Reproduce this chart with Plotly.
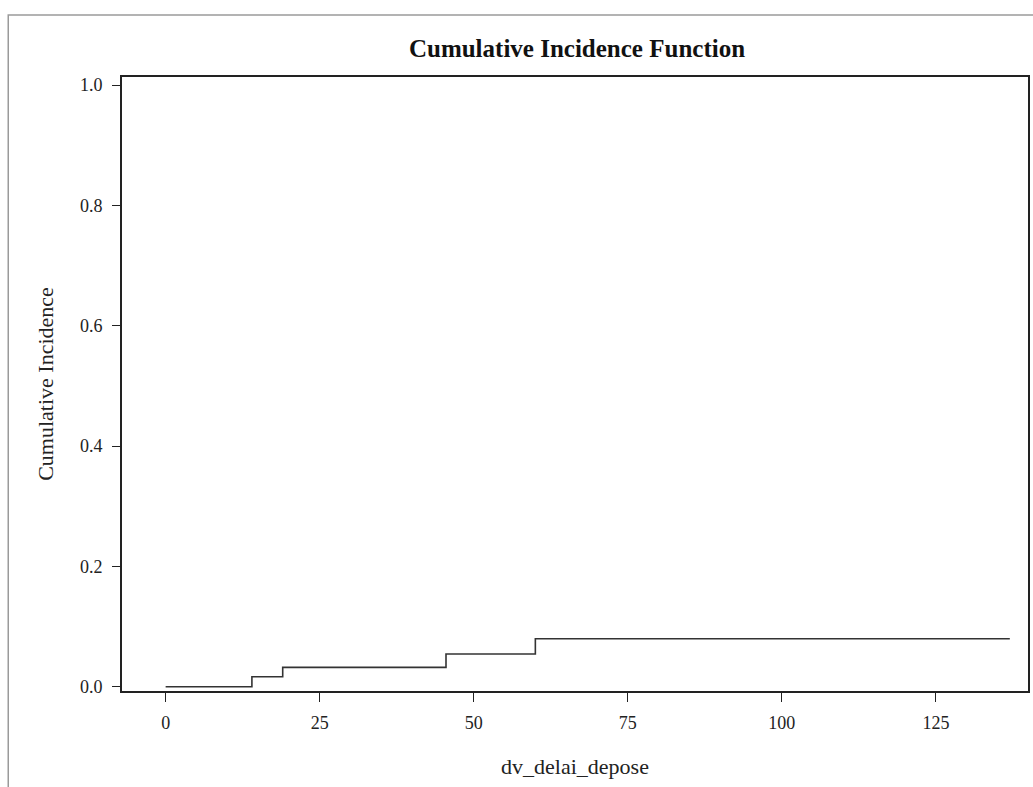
import plotly.graph_objects as go

# Data: step function of cumulative incidence
time_points = [0, 14, 19, 45.5, 60, 137]
cum_incidence = [0.0, 0.0167, 0.0322, 0.0543, 0.0798, 0.0798]

x_ticks = [0, 25, 50, 75, 100, 125]
y_ticks = [0.0, 0.2, 0.4, 0.6, 0.8, 1.0]
y_tick_labels = ["0.0", "0.2", "0.4", "0.6", "0.8", "1.0"]

FONT = "Liberation Serif, Times New Roman, serif"

fig = go.Figure()
fig.add_trace(go.Scatter(
    x=time_points, y=cum_incidence, mode="lines",
    line=dict(shape="hv", color="#333333", width=1.6),
    showlegend=False, hoverinfo="skip",
))

fig.update_layout(
    width=1033, height=787,
    margin=dict(l=122, r=3, t=77, b=96),
    paper_bgcolor="white", plot_bgcolor="white",
    font=dict(family=FONT, color="#222222", size=18),
    title=dict(
        text="<b>Cumulative Incidence Function</b>",
        x=577 / 1033, xanchor="center", xref="container",
        y=1 - 48 / 787, yanchor="middle", yref="container",
        font=dict(family=FONT, size=25, color="#111111"),
    ),
    xaxis=dict(
        range=[-7.08, 139.95],
        tickvals=x_ticks, ticks="outside", ticklen=9, tickwidth=1.4,
        tickcolor="#222222", ticklabelstandoff=6,
        showline=True, linecolor="#222222", linewidth=1.6, mirror=True,
        showgrid=False, zeroline=False,
        title=dict(text="dv_delai_depose", font=dict(size=22), standoff=26),
        tickfont=dict(size=18),
    ),
    yaxis=dict(
        range=[-0.0071, 1.0133],
        tickvals=y_ticks, ticktext=y_tick_labels, ticks="outside", ticklen=8,
        tickwidth=1.4, tickcolor="#222222", ticklabelstandoff=6,
        showline=True, linecolor="#222222", linewidth=1.6, mirror=True,
        showgrid=False, zeroline=False,
        title=dict(text="Cumulative Incidence", font=dict(size=22), standoff=20),
        tickfont=dict(size=18),
    ),
)

# outer light gray frame (top and left edges visible)
fig.add_shape(
    type="rect", xref="paper", yref="paper",
    x0=(8 - 122) / 908, x1=1.05, y0=-0.3, y1=(691 - 15) / 614,
    line=dict(color="#9a9a9a", width=1.5), fillcolor="rgba(0,0,0,0)",
    layer="below",
)

fig.write_html(
    "out.html",
    config={"displayModeBar": False},
    post_script="document.body.style.margin='0';document.body.style.overflow='hidden';",
)
